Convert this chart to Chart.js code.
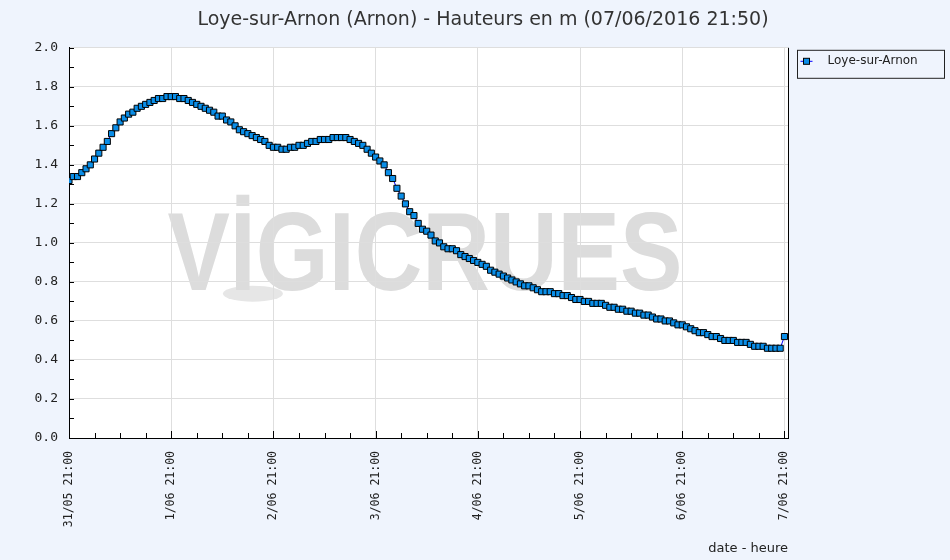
<!DOCTYPE html>
<html>
<head>
<meta charset="utf-8">
<script src="https://cdn.jsdelivr.net/npm/chart.js@4.4.1/dist/chart.umd.min.js"></script>
<style>
  html, body { margin: 0; padding: 0; background: #eff4fd; }
  #wrap { width: 950px; height: 560px; }
</style>
</head>
<body>
<div id="wrap"><canvas id="chart"></canvas></div>
<script>
const titleText = "Loye-sur-Arnon (Arnon) - Hauteurs en m (07/06/2016 21:50)"
const seriesName = "Loye-sur-Arnon"
const dayLabels = ["31/05 21:00", "1/06 21:00", "2/06 21:00", "3/06 21:00",
  "4/06 21:00", "5/06 21:00", "6/06 21:00", "7/06 21:00"]
// hourly water level (m), from 31/05 21:00 onwards
const levels = [
  1.32, 1.34, 1.34, 1.36, 1.38, 1.40, 1.43, 1.46, 1.49, 1.52,
  1.56, 1.59, 1.62, 1.64, 1.66, 1.67, 1.69, 1.70, 1.71, 1.72,
  1.73, 1.74, 1.74, 1.75, 1.75, 1.75, 1.74, 1.74, 1.73, 1.72,
  1.71, 1.70, 1.69, 1.68, 1.67, 1.65, 1.65, 1.63, 1.62, 1.60,
  1.58, 1.57, 1.56, 1.55, 1.54, 1.53, 1.52, 1.50, 1.49, 1.49,
  1.48, 1.48, 1.49, 1.49, 1.50, 1.50, 1.51, 1.52, 1.52, 1.53,
  1.53, 1.53, 1.54, 1.54, 1.54, 1.54, 1.53, 1.52, 1.51, 1.50,
  1.48, 1.46, 1.44, 1.42, 1.40, 1.36, 1.33, 1.28, 1.24, 1.20,
  1.16, 1.14, 1.10, 1.07, 1.06, 1.04, 1.01, 1.00, 0.98, 0.97,
  0.97, 0.96, 0.94, 0.93, 0.92, 0.91, 0.90, 0.89, 0.88, 0.86,
  0.85, 0.84, 0.83, 0.82, 0.81, 0.80, 0.79, 0.78, 0.78, 0.77,
  0.76, 0.75, 0.75, 0.75, 0.74, 0.74, 0.73, 0.73, 0.72, 0.71,
  0.71, 0.70, 0.70, 0.69, 0.69, 0.69, 0.68, 0.67, 0.67, 0.66,
  0.66, 0.65, 0.65, 0.64, 0.64, 0.63, 0.63, 0.62, 0.61, 0.61,
  0.60, 0.60, 0.59, 0.58, 0.58, 0.57, 0.56, 0.55, 0.54, 0.54,
  0.53, 0.52, 0.52, 0.51, 0.50, 0.50, 0.50, 0.49, 0.49, 0.49,
  0.48, 0.47, 0.47, 0.47, 0.46, 0.46, 0.46, 0.46, 0.52
]
const lastHour = 168 + 50 / 60

const BG = "#eff4fd"
const GRID = "#dedede"
const POINT = "#0a8ee8"

// page background, white plot area and the watermark
const backdrop = {
  id: "backdrop",
  beforeDraw(chart) {
    const { ctx, chartArea: a } = chart
    ctx.save()
    ctx.fillStyle = BG
    ctx.fillRect(0, 0, chart.width, chart.height)
    ctx.fillStyle = "#fff"
    ctx.fillRect(a.left, a.top, a.width, a.height)
    const cx = a.left + a.width * 0.495
    const base = a.top + a.height * 0.625
    ctx.fillStyle = "#e6e6e6"
    ctx.beginPath()
    ctx.ellipse(cx - 172, base + 2, 30, 8, 0, 0, Math.PI * 2)
    ctx.fill()
    ctx.fillStyle = "#dcdcdc"
    ctx.font = "bold 112px 'Liberation Sans'"
    ctx.textAlign = "center"
    ctx.textBaseline = "alphabetic"
    ctx.fillText("VİGICRUES", cx, base - 2, 515)
    ctx.restore()
  },
}

// inward tick marks, right frame line and the legend box
const frame = {
  id: "frame",
  beforeDatasetsDraw(chart) {
    const { ctx, chartArea: a, scales } = chart
    ctx.save()
    ctx.strokeStyle = "#000"
    ctx.lineWidth = 1
    ctx.beginPath()
    for (let i = 0; i <= 20; i++) {
      const y = Math.round(scales.y.getPixelForValue(i / 10)) + 0.5
      ctx.moveTo(a.left, y)
      ctx.lineTo(a.left + 5, y)
    }
    for (let h = 0; h <= 168; h += 6) {
      const x = Math.round(scales.x.getPixelForValue(h)) + 0.5
      ctx.moveTo(x, a.bottom)
      ctx.lineTo(x, a.bottom - (h % 24 === 0 ? 7 : 5))
    }
    const r = Math.round(a.right) + 0.5
    ctx.moveTo(r, a.top)
    ctx.lineTo(r, a.bottom)
    ctx.stroke()
    ctx.restore()
  },
  afterDraw(chart) {
    const { ctx, chartArea: a } = chart
    const ds = chart.data.datasets[0]
    const x0 = Math.round(a.right) + 9.5
    const y0 = a.top + 2.5
    ctx.save()
    ctx.fillStyle = BG
    ctx.strokeStyle = "#222"
    ctx.lineWidth = 1
    ctx.fillRect(x0, y0, 147, 28)
    ctx.strokeRect(x0, y0, 147, 28)
    const my = y0 + 11
    ctx.strokeStyle = "#0000ff"
    ctx.beginPath()
    ctx.moveTo(x0 + 3, my)
    ctx.lineTo(x0 + 15, my)
    ctx.stroke()
    ctx.fillStyle = POINT
    ctx.strokeStyle = "#000"
    ctx.fillRect(x0 + 6, my - 3, 6, 6)
    ctx.strokeRect(x0 + 6, my - 3, 6, 6)
    ctx.fillStyle = "#222"
    ctx.font = "12px 'DejaVu Sans'"
    ctx.textBaseline = "middle"
    ctx.fillText(ds.label, x0 + 30, my)
    ctx.restore()
  },
}

const config = {
  type: "line",
  data: {
    datasets: [
      {
        label: seriesName,
        data: levels.map((v, i) => ({ x: i, y: v })),
        borderColor: "#0000ff",
        borderWidth: 1,
        pointStyle: "rect",
        pointRadius: 4.3,
        pointBackgroundColor: POINT,
        pointBorderColor: "#000",
        pointBorderWidth: 1,
        tension: 0,
      },
    ],
  },
  options: {
    responsive: true,
    maintainAspectRatio: false,
    animation: false,
    layout: { padding: { left: 16, right: 0, top: 0, bottom: 0 } },
    scales: {
      x: {
        type: "linear",
        min: 0,
        max: lastHour,
        grid: { color: GRID, drawTicks: false },
        border: { color: "#000" },
        ticks: {
          stepSize: 24,
          includeBounds: false,
          autoSkip: false,
          minRotation: 90,
          maxRotation: 90,
          padding: 13,
          color: "#222",
          font: { family: "'DejaVu Sans Mono'", size: 11.5 },
          callback: (v) => dayLabels[v / 24],
        },
        title: {
          display: true,
          text: "date - heure",
          align: "end",
          color: "#222",
          font: { family: "'DejaVu Sans'", size: 13 },
          padding: { top: 4, bottom: 4 },
        },
        afterFit: (s) => { s.height = 122 },
      },
      y: {
        min: 0,
        max: 2,
        grid: { color: GRID, drawTicks: false },
        border: { color: "#000" },
        ticks: {
          stepSize: 0.2,
          padding: 11,
          color: "#222",
          font: { family: "'DejaVu Sans Mono'", size: 13 },
          callback: (v) => v.toFixed(1),
        },
        afterFit: (s) => { s.width = 53 },
      },
      y2: {
        position: "right",
        min: 0,
        max: 2,
        grid: { display: false, drawTicks: false },
        border: { display: false },
        ticks: { display: false },
        afterFit: (s) => { s.width = 162 },
      },
    },
    plugins: {
      legend: { display: false },
      tooltip: { enabled: false },
      title: {
        display: true,
        text: titleText,
        color: "#333",
        font: { family: "'DejaVu Sans'", size: 19, weight: "normal" },
        padding: { top: 9, bottom: 16 },
      },
    },
  },
  plugins: [backdrop, frame],
}

new Chart(document.getElementById("chart"), config)
</script>
</body>
</html>
